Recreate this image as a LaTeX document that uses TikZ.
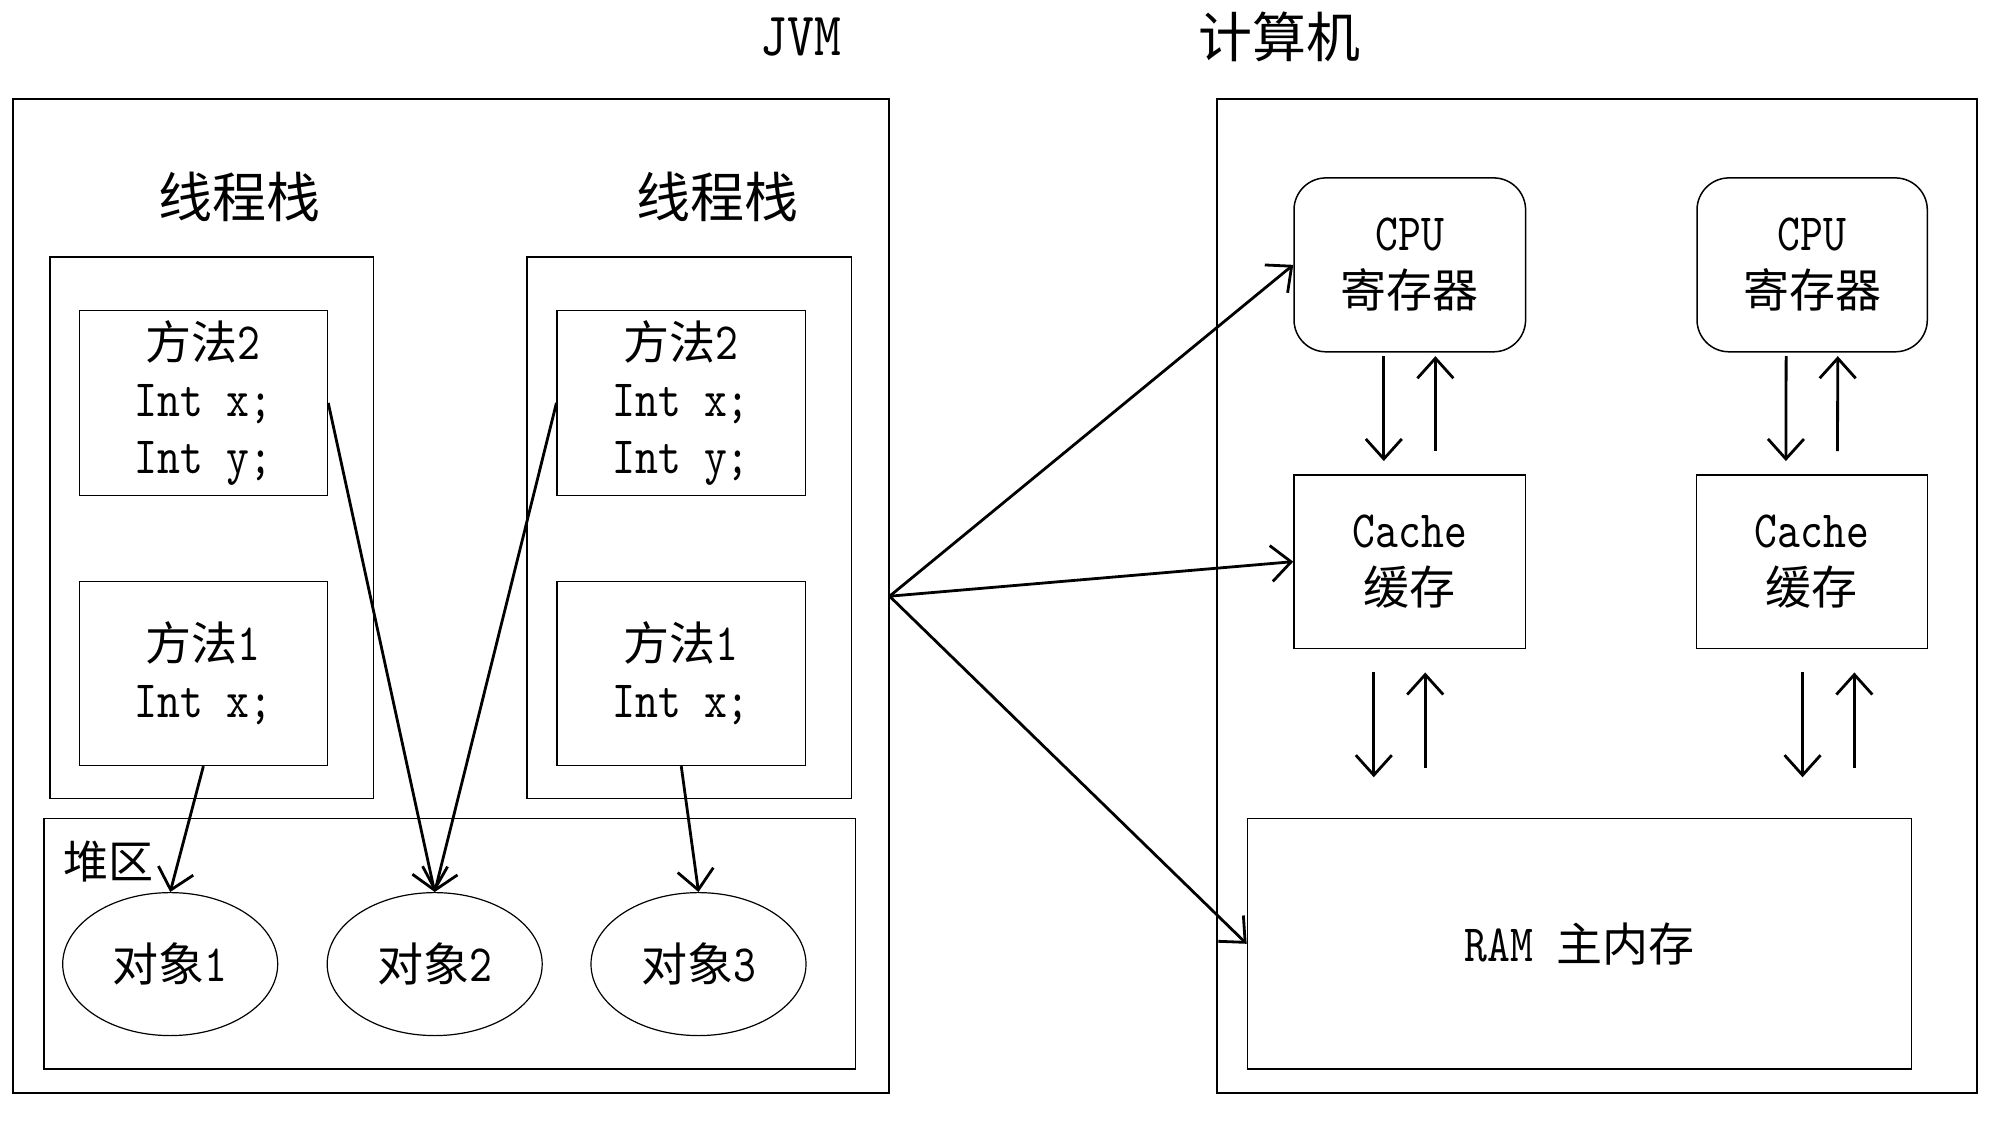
\documentclass[tikz,border=0pt]{standalone}
\usepackage{fontspec}
\setmainfont[Scale=1.14,FakeStretch=0.83]{lmmono10-regular.otf}
\newfontfamily\cjk{Noto Sans CJK SC}
\usetikzlibrary{arrows.meta,shapes.geometric}
\tikzset{
  box/.style={draw, rectangle, line width=1.5pt, inner sep=0pt},
  outer/.style={draw, rectangle, line width=2pt, inner sep=0pt},
  obj/.style={draw, ellipse, line width=1.2pt, inner sep=0pt, minimum width=215pt, minimum height=143pt},
  body/.style={font=\fontsize{46}{57}\selectfont, align=center},
  title/.style={font=\fontsize{54}{62}\selectfont, anchor=base, inner sep=0pt},
  arr/.style={line width=2.8pt, -{Straight Barb[length=20pt,width=36pt]}},
}
\begin{document}
\begin{tikzpicture}[x=1pt,y=-1pt]
\useasboundingbox (0,0) rectangle (2006,1125);
% ---------- JVM ----------
\node[outer, minimum width=875.7pt, minimum height=993.7pt] (jvm) at (450.7,596.2) {};
\node[title] (jvmt) at (801,55.4) {JVM};
\node[title] (t1) at (239.2,217) {\cjk 线程栈};
\node[title] (t2) at (717.4,217) {\cjk 线程栈};
\node[box, minimum width=323.7pt, minimum height=541.5pt] (s1) at (211.75,527.85) {};
\node[box, minimum width=324.4pt, minimum height=541.5pt] (s2) at (689.2,527.85) {};
\node[box, body, minimum width=248.2pt, minimum height=185pt] (m2a) at (203.4,402.9) {{\cjk 方法}2\\Int x;\\Int y;};
\node[box, body, minimum width=248.1pt, minimum height=185pt] (m2b) at (681.25,402.9) {{\cjk 方法}2\\Int x;\\Int y;};
\node[box, body, minimum width=248.2pt, minimum height=184.1pt] (m1a) at (203.4,673.35) {{\cjk 方法}1\\Int x;};
\node[box, body, minimum width=248.1pt, minimum height=184.1pt] (m1b) at (681.25,673.35) {{\cjk 方法}1\\Int x;};
\node[box, minimum width=811.2pt, minimum height=250.8pt] (heap) at (449.7,943.8) {};
\node[anchor=base, inner sep=0pt, font=\fontsize{45}{55}\selectfont] (heapt) at (108.8,878) {\cjk 堆区};
\node[obj, body] (o1) at (170.2,964.1) {{\cjk 对象}1};
\node[obj, body] (o2) at (434.7,964.1) {{\cjk 对象}2};
\node[obj, body] (o3) at (698.5,964.1) {{\cjk 对象}3};
\draw[arr] (m1a.south) -- (o1.north);
\draw[arr] (m2a.east) -- (o2.north);
\draw[arr] (m2b.west) -- (o2.north);
\draw[arr] (m1b.south) -- (o3.north);
% ---------- Computer ----------
\node[outer, minimum width=759.9pt, minimum height=993.7pt] (comp) at (1597.25,596.2) {};
\node[title] (compt) at (1279.5,57) {\cjk 计算机};
\node[box, body, rounded corners=32pt, minimum width=231.6pt, minimum height=173.9pt] (cpu1) at (1409.8,264.85) {CPU\\{\cjk 寄存器}};
\node[box, body, rounded corners=32pt, minimum width=230.3pt, minimum height=173.9pt] (cpu2) at (1812.15,264.85) {CPU\\{\cjk 寄存器}};
\node[box, body, minimum width=231.6pt, minimum height=173.3pt] (cache1) at (1409.8,561.65) {Cache\\{\cjk 缓存}};
\node[box, body, minimum width=230.9pt, minimum height=173.3pt] (cache2) at (1811.85,561.65) {Cache\\{\cjk 缓存}};
\node[box, body, minimum width=663.9pt, minimum height=250.8pt] (ram) at (1579.35,943.8) {RAM {\cjk 主内存}};
% CPU <-> Cache
\draw[arr, shorten <=3.6pt, shorten >=13.2pt] ([xshift=-26pt]cpu1.south) -- ([xshift=-26pt]cache1.north);
\draw[arr, shorten <=23.2pt, shorten >=3.6pt] ([xshift=25.6pt]cache1.north) -- ([xshift=25.6pt]cpu1.south);
\draw[arr, shorten <=3.6pt, shorten >=13.2pt] ([xshift=-26pt]cpu2.south) -- ([xshift=-26pt]cache2.north);
\draw[arr, shorten <=23.2pt, shorten >=3.6pt] ([xshift=25.6pt]cache2.north) -- ([xshift=25.6pt]cpu2.south);
% Cache <-> RAM
\draw[arr, shorten <=23.4pt, shorten >=40.4pt] ([xshift=-36pt]cache1.south) -- ([xshift=-36pt]cache1.south |- ram.north);
\draw[arr, shorten <=50.1pt, shorten >=23.4pt] ([xshift=15.4pt]cache1.south |- ram.north) -- ([xshift=15.4pt]cache1.south);
\draw[arr, shorten <=23.4pt, shorten >=40.4pt] ([xshift=-9.3pt]cache2.south) -- ([xshift=-9.3pt]cache2.south |- ram.north);
\draw[arr, shorten <=50.1pt, shorten >=23.4pt] ([xshift=42.5pt]cache2.south |- ram.north) -- ([xshift=42.5pt]cache2.south);
% JVM -> computer
\draw[arr] (jvm.east) -- (cpu1.west);
\draw[arr] (jvm.east) -- (cache1.west);
\draw[arr] (jvm.east) -- (ram.west);
\end{tikzpicture}
\end{document}
